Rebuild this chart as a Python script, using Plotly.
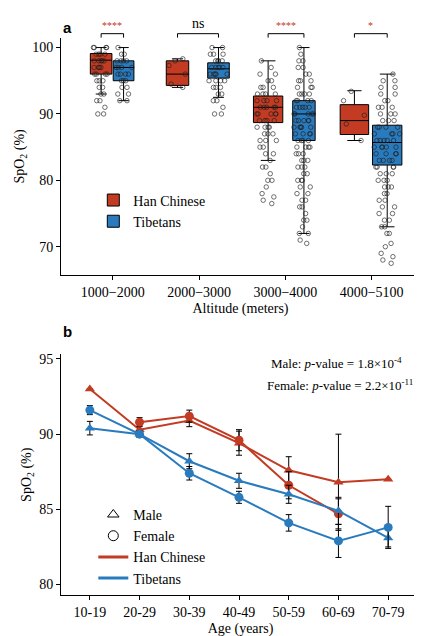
import plotly.graph_objects as go

# ---------------- Panel a data ----------------
altitudes = ["1000\u22122000", "2000\u22123000", "3000\u22124000", "4000\u22125100"]
han_q1 = [96.0, 94.3, 88.7, 86.9]
han_med = [98.1, 96.0, 91.0, 89.0]
han_q3 = [99.1, 98.0, 92.7, 91.4]
han_lo = [93.0, 94.0, 83.0, 86.0]
han_hi = [100.0, 98.3, 98.0, 93.5]
tib_q1 = [95.0, 95.4, 86.0, 82.3]
tib_med = [97.0, 96.8, 90.0, 85.7]
tib_q3 = [98.0, 97.7, 92.0, 88.3]
tib_lo = [92.0, 92.5, 72.0, 73.0]
tib_hi = [100.0, 100.0, 100.0, 96.0]

han_pts = [
    [90, 90, 91, 92, 92, 93, 93, 94, 94, 95, 95, 95, 96, 96, 96, 96, 97, 97, 97, 97, 98, 98, 98, 98, 98, 99, 99, 99, 99, 100, 100, 100, 100],
    [94, 94.5, 96, 97.3, 98, 98.3],
    [76.5, 77, 77.5, 78, 79, 80, 80, 81, 82, 82, 83, 84, 84, 85, 85, 86, 86, 86, 87, 87, 87, 88, 88, 88, 88, 89, 89, 89, 89, 90, 90, 90, 90, 90, 91, 91, 91, 91, 91, 92, 92, 92, 92, 93, 93, 93, 93, 94, 94, 94, 95, 95, 96, 96, 97, 98],
    [86, 88.5, 89.8, 92, 93.4],
]
tib_pts = [
    [92, 92, 93, 93, 94, 94, 95, 95, 95, 96, 96, 96, 96, 97, 97, 97, 97, 98, 98, 98, 98, 99, 99, 100],
    [90, 90, 91, 92, 92, 93, 93, 94, 94, 94, 95, 95, 95, 95, 96, 96, 96, 96, 96, 97, 97, 97, 97, 97, 98, 98, 98, 98, 99, 99, 99, 100, 100],
    [70.5, 71, 72, 72, 73, 74, 74, 75, 76, 76, 77, 77, 78, 78, 79, 79, 80, 80, 80, 81, 81, 82, 82, 82, 83, 83, 83, 84, 84, 84, 85, 85, 85, 85, 86, 86, 86, 86, 87, 87, 87, 87, 88, 88, 88, 88, 88, 89, 89, 89, 89, 89, 90, 90, 90, 90, 90, 91, 91, 91, 91, 91, 92, 92, 92, 92, 93, 93, 93, 93, 94, 94, 94, 95, 95, 95, 96, 96, 97, 97, 98, 98, 99, 100],
    [67.5, 68, 68.5, 69, 70, 70.5, 72, 72, 73, 73, 74, 74, 75, 75, 76, 76, 77, 77, 78, 78, 79, 79, 79, 80, 80, 80, 81, 81, 81, 82, 82, 82, 82, 83, 83, 83, 83, 84, 84, 84, 84, 85, 85, 85, 85, 85, 86, 86, 86, 86, 86, 87, 87, 87, 87, 88, 88, 88, 88, 89, 89, 89, 90, 90, 90, 91, 91, 91, 92, 92, 93, 93, 94, 94, 95, 95, 96],
]
sig_labels = ["****", "ns", "****", "*"]

# ---------------- Panel b data ----------------
ages = ["10-19", "20-29", "30-39", "40-49", "50-59", "60-69", "70-79"]
han_male = [93.0, 90.3, 90.9, 89.4, 87.6, 86.8, 87.0]
han_male_err = [0, 0.25, 0.4, 0.8, 0.9, 3.2, 0]
han_female = [None, 90.8, 91.2, 89.6, 86.6, 84.7, None]
han_female_err = [0, 0.3, 0.4, 0.7, 0.9, 1.0, 0]
tib_male = [90.4, 90.0, 88.2, 86.9, 86.0, 84.9, 83.1]
tib_male_err = [0.45, 0.2, 0.5, 0.5, 0.6, 0.9, 0.6]
tib_female = [91.6, 90.0, 87.4, 85.8, 84.1, 82.9, 83.8]
tib_female_err = [0.3, 0.2, 0.45, 0.4, 0.55, 1.1, 1.4]

RED = "#C23B22"
BLUE = "#2A7BBE"
FONT = "Liberation Serif"
FS = 14

han_off = [-0.135, -0.25, -0.20, -0.20]
tib_off = [0.125, 0.225, 0.215, 0.18]
han_w = [0.25, 0.26, 0.34, 0.33]
tib_w = [0.24, 0.25, 0.26, 0.34]

fig = go.Figure()
for i in range(len(altitudes)):
    for grp, q1, md, q3, lo, hi, pts, off, w, col, name in [
        ("han", han_q1, han_med, han_q3, han_lo, han_hi, han_pts, han_off, han_w, RED, "Han Chinese"),
        ("tib", tib_q1, tib_med, tib_q3, tib_lo, tib_hi, tib_pts, tib_off, tib_w, BLUE, "Tibetans"),
    ]:
        xc = i + off[i]
        fig.add_trace(go.Box(
            x=[xc], q1=[q1[i]], median=[md[i]], q3=[q3[i]],
            lowerfence=[lo[i]], upperfence=[hi[i]], width=w[i],
            fillcolor=col, line=dict(color="black", width=1),
            name=name, legendgroup=grp, showlegend=(i == 0), boxpoints=False,
            xaxis="x", yaxis="y", legend="legend"))
        fig.add_trace(go.Box(
            x=[xc] * len(pts[i]), y=pts[i], width=w[i], boxpoints="all", jitter=0.9, pointpos=0,
            fillcolor="rgba(0,0,0,0)", line=dict(color="rgba(0,0,0,0)", width=0),
            marker=dict(symbol="circle-open", size=4.5, color="rgba(30,30,30,0.7)", line=dict(width=0.9)),
            showlegend=False, hoverinfo="skip", xaxis="x", yaxis="y"))

shapes = []
annotations = []
for i, lab in enumerate(sig_labels):
    x0 = i + han_off[i]
    x1 = i + tib_off[i]
    shapes.append(dict(type="path", xref="x", yref="paper",
                       path=f"M {x0},0.9695 L {x0},0.9763 L {x1},0.9763 L {x1},0.9695",
                       line=dict(color="black", width=1)))
    annotations.append(dict(x=(x0 + x1) / 2, y=0.977, xref="x", yref="paper", text=lab,
                            showarrow=False, yanchor="bottom",
                            font=dict(family=FONT, size=10 if lab != "ns" else 14,
                                      color=RED if lab != "ns" else "black")))

def add_line(vals, errs, col, sym):
    fig.add_trace(go.Scatter(
        x=list(range(len(ages))), y=vals, mode="lines+markers",
        line=dict(color=col, width=2), marker=dict(color=col, symbol=sym, size=9),
        error_y=dict(type="data", array=errs, color="black", thickness=1, width=3),
        showlegend=False, xaxis="x2", yaxis="y2", connectgaps=False))

add_line(han_male, han_male_err, RED, "triangle-up")
add_line(han_female, han_female_err, RED, "circle")
add_line(tib_male, tib_male_err, BLUE, "triangle-up")
add_line(tib_female, tib_female_err, BLUE, "circle")

for nm, mode, sym, col in [("Male", "markers", "triangle-up-open", "black"),
                           ("Female", "markers", "circle-open", "black"),
                           ("Han Chinese", "lines", None, RED),
                           ("Tibetans", "lines", None, BLUE)]:
    kw = dict(marker=dict(symbol=sym, size=10, color=col)) if mode == "markers" else dict(line=dict(color=col, width=3))
    fig.add_trace(go.Scatter(x=[None], y=[None], mode=mode, name=nm, legend="legend2",
                             xaxis="x2", yaxis="y2", **kw))

annotations += [
    dict(x=0.0, y=1.005, xref="paper", yref="paper", text="<b>a</b>", showarrow=False,
         xanchor="left", font=dict(family="Liberation Sans", size=15)),
    dict(x=0.0, y=0.46, xref="paper", yref="paper", text="<b>b</b>", showarrow=False,
         xanchor="left", font=dict(family="Liberation Sans", size=15)),
    dict(x=0.955, y=0.405, xref="paper", yref="paper", showarrow=False, xanchor="right",
         text="Male: <i>p</i>-value = 1.8×10<sup>-4</sup>", font=dict(family=FONT, size=13)),
    dict(x=0.985, y=0.368, xref="paper", yref="paper", showarrow=False, xanchor="right",
         text="Female: <i>p</i>-value = 2.2×10<sup>-11</sup>", font=dict(family=FONT, size=13)),
]

axis_common = dict(showline=True, linecolor="black", linewidth=1, ticks="outside",
                   ticklen=4, tickcolor="black", showgrid=False, zeroline=False,
                   tickfont=dict(family=FONT, size=FS, color="black"))

fig.update_layout(
    width=422, height=636, margin=dict(l=40, r=10, t=10, b=36),
    plot_bgcolor="white", paper_bgcolor="white", boxmode="overlay",
    font=dict(family=FONT, color="black"),
    xaxis=dict(domain=[0, 1], anchor="y", range=[-0.6, 3.56], tickmode="array",
               tickvals=list(range(len(altitudes))), ticktext=altitudes,
               title=dict(text="Altitude (meters)", font=dict(family=FONT, size=FS), standoff=4), **axis_common),
    yaxis=dict(domain=[0.5576, 0.9695], anchor="x", range=[65.7, 101.5], tickvals=[70, 80, 90, 100],
               title=dict(text="SpO<sub>2</sub> (%)", font=dict(family=FONT, size=FS), standoff=4), **axis_common),
    xaxis2=dict(domain=[0, 1], anchor="y2", range=[-0.58, 6.64], tickmode="array",
                tickvals=list(range(len(ages))), ticktext=ages,
                title=dict(text="Age (years)", font=dict(family=FONT, size=FS), standoff=4), **axis_common),
    yaxis2=dict(domain=[0.0034, 0.4203], anchor="x2", range=[79.3, 95.3], tickvals=[80, 85, 90, 95],
                title=dict(text="SpO<sub>2</sub> (%)", font=dict(family=FONT, size=FS), standoff=4), **axis_common),
    legend=dict(x=0.09, y=0.715, xanchor="left", yanchor="top", bgcolor="rgba(0,0,0,0)",
                font=dict(family=FONT, size=FS), tracegroupgap=0),
    legend2=dict(x=0.09, y=0.17, xanchor="left", yanchor="top", bgcolor="rgba(0,0,0,0)",
                 font=dict(family=FONT, size=FS), tracegroupgap=0),
    shapes=shapes, annotations=annotations,
)
fig.write_html("out.html")
